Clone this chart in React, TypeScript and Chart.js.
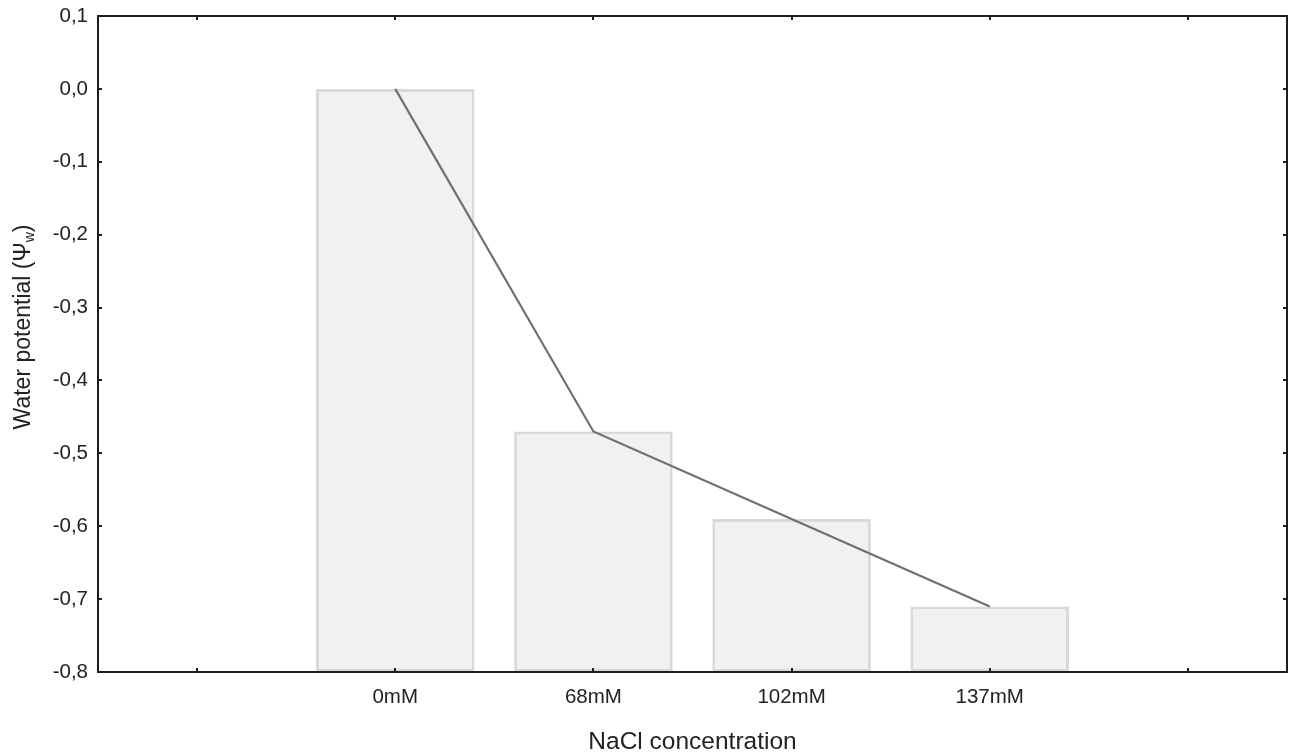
import React, { useEffect, useRef } from "react";
import { Chart, registerables } from "chart.js";

Chart.register(...registerables);

const categories = ["", "0mM", "68mM", "102mM", "137mM", ""];
const waterPotential = [null, 0.0, -0.47, -0.59, -0.71, null];
const yMin = -0.8;
const yMax = 0.1;
const yStep = 0.1;
const xTitle = "NaCl concentration";
const yTitleMain = "Water potential (Ψ";
const yTitleSub = "w";
const yTitleEnd = ")";

const FONT = "'Liberation Sans', Arial, sans-serif";
const FRAME = "#1e1e1e";
const TEXT = "#222222";

function makePattern(): CanvasPattern | string {
  const c = document.createElement("canvas");
  c.width = 2;
  c.height = 2;
  const g = c.getContext("2d");
  if (!g) return "#f1f1f1";
  g.fillStyle = "#f5f5f5";
  g.fillRect(0, 0, 2, 2);
  g.fillStyle = "#ededed";
  g.fillRect(0, 0, 1, 1);
  g.fillRect(1, 1, 1, 1);
  const p = g.createPattern(c, "repeat");
  return p || "#f1f1f1";
}

const framePlugin = {
  id: "frameTicks",
  afterDatasetsDraw(chart: any) {
    const { ctx, chartArea } = chart;
    const { left, right, top, bottom } = chartArea;
    const xs = chart.scales.x;
    const ys = chart.scales.y;
    ctx.save();
    ctx.strokeStyle = FRAME;
    ctx.lineWidth = 2;
    ctx.strokeRect(left, top, right - left, bottom - top);
    const tl = 4;
    ctx.beginPath();
    for (let i = 0; i < categories.length; i++) {
      const x = Math.round(xs.getPixelForValue(i));
      ctx.moveTo(x, bottom);
      ctx.lineTo(x, bottom - tl);
      ctx.moveTo(x, top);
      ctx.lineTo(x, top + tl);
    }
    const n = Math.round((yMax - yMin) / yStep);
    for (let k = 0; k <= n; k++) {
      const v = yMin + k * yStep;
      const y = Math.round(ys.getPixelForValue(v));
      ctx.moveTo(left, y);
      ctx.lineTo(left + tl, y);
      ctx.moveTo(right, y);
      ctx.lineTo(right - tl, y);
    }
    ctx.stroke();
    ctx.restore();
  },
  afterDraw(chart: any) {
    const { ctx, chartArea } = chart;
    ctx.save();
    ctx.fillStyle = TEXT;
    // x title
    ctx.font = `24.5px ${FONT}`;
    ctx.textAlign = "center";
    ctx.textBaseline = "alphabetic";
    ctx.fillText(xTitle, (chartArea.left + chartArea.right) / 2, 749);
    // y title (rotated, with subscript)
    const mainFont = `23px ${FONT}`;
    const subFont = `14px ${FONT}`;
    ctx.font = mainFont;
    const w1 = ctx.measureText(yTitleMain).width;
    const w3 = ctx.measureText(yTitleEnd).width;
    ctx.font = subFont;
    const w2 = ctx.measureText(yTitleSub).width;
    const total = w1 + w2 + w3;
    ctx.translate(30, 327);
    ctx.rotate(-Math.PI / 2);
    ctx.textAlign = "left";
    let x = -total / 2;
    ctx.font = mainFont;
    ctx.fillText(yTitleMain, x, 0);
    x += w1;
    ctx.font = subFont;
    ctx.fillText(yTitleSub, x, 4);
    x += w2;
    ctx.font = mainFont;
    ctx.fillText(yTitleEnd, x, 0);
    ctx.restore();
  },
};

function fmt(v: number): string {
  if (Math.abs(v) < 1e-9) return "0,0";
  return v.toFixed(1).replace(".", ",");
}

export default function App() {
  const ref = useRef<HTMLCanvasElement | null>(null);
  useEffect(() => {
    if (!ref.current) return;
    const pattern = makePattern();
    const chart = new Chart(ref.current, {
      type: "bar",
      data: {
        labels: categories,
        datasets: [
          {
            type: "line",
            data: waterPotential as any,
            borderColor: "#707070",
            borderWidth: 2.2,
            pointRadius: 0,
            spanGaps: false,
            order: 0,
          } as any,
          {
            type: "bar",
            data: waterPotential as any,
            base: yMin,
            backgroundColor: pattern as any,
            borderColor: "#d9d9d9",
            borderWidth: 3,
            borderSkipped: false,
            barPercentage: 0.8,
            categoryPercentage: 1,
            order: 1,
          } as any,
        ],
      },
      options: {
        responsive: false,
        animation: false,
        layout: { padding: { top: 16, right: 6, left: 0, bottom: 0 } },
        plugins: { legend: { display: false }, tooltip: { enabled: false } },
        scales: {
          x: {
            type: "category",
            offset: true,
            grid: { display: false, drawTicks: false },
            border: { display: false },
            ticks: {
              color: TEXT,
              font: { family: FONT, size: 20.5 },
              padding: 13,
              maxRotation: 0,
              autoSkip: false,
            },
            afterFit: (s: any) => {
              s.height = 83;
              s.paddingLeft = 0;
              s.paddingRight = 0;
            },
          },
          y: {
            min: yMin,
            max: yMax,
            grid: { display: false, drawTicks: false },
            border: { display: false },
            ticks: {
              stepSize: yStep,
              color: TEXT,
              font: { family: FONT, size: 20.5 },
              padding: 10,
              callback: (v: any) => fmt(Number(v)),
            },
            afterFit: (s: any) => {
              s.width = 98;
              s.paddingTop = 0;
              s.paddingBottom = 0;
            },
          },
        },
      },
      plugins: [framePlugin],
    });
    return () => chart.destroy();
  }, []);
  return (
    <div style={{ position: "fixed", left: 0, top: 0, width: 1293, height: 755, background: "#fff" }}>
      <canvas ref={ref} width={1293} height={755} style={{ display: "block" }} />
    </div>
  );
}
